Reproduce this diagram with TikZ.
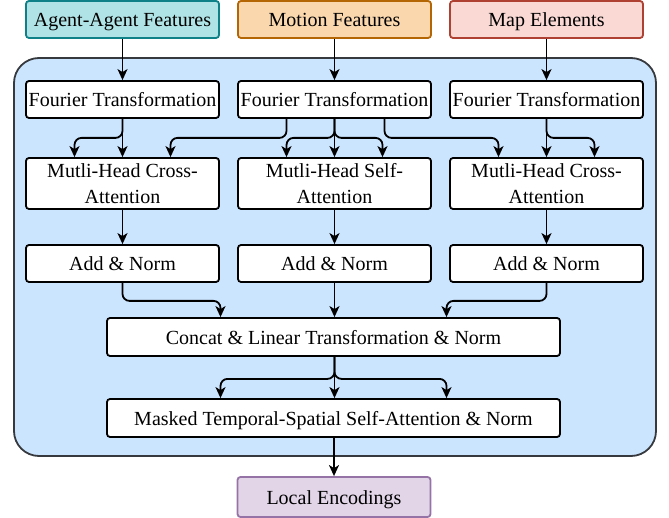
\documentclass[tikz,border=0pt]{standalone}
\usepackage{fontspec}
\setmainfont{Liberation Serif}
\usetikzlibrary{arrows.meta,calc}
\definecolor{agentfill}{HTML}{B0E3E6}
\definecolor{agentline}{HTML}{0E8088}
\definecolor{motionfill}{HTML}{FAD7AC}
\definecolor{motionline}{HTML}{B46504}
\definecolor{mapfill}{HTML}{FAD9D5}
\definecolor{mapline}{HTML}{AE4132}
\definecolor{localfill}{HTML}{E1D5E7}
\definecolor{localline}{HTML}{9673A6}
\definecolor{contfill}{HTML}{CCE5FF}
\definecolor{contline}{HTML}{36393D}
\begin{document}
\begin{tikzpicture}[x=1pt,y=-1pt,
  box/.style={draw=black,fill=white,line width=1.8pt,rounded corners=3pt,minimum width=193pt,minimum height=37pt,inner sep=0pt,align=center,font=\fontsize{20}{26}\selectfont},
  oneline/.style={text height=18pt,text depth=3pt},
  arr/.style={-{Stealth[length=11pt,width=10pt,inset=3pt]},line width=1.8pt,rounded corners=7pt}]
\useasboundingbox (0,0) rectangle (669,518);
\draw[fill=contfill,draw=contline,line width=1.8pt,rounded corners=25pt] (14,58) rectangle (656,456);
\node[box,oneline,fill=agentfill,draw=agentline] (agent) at (122.5,19.5) {Agent-Agent Features};
\node[box,oneline,fill=motionfill,draw=motionline] (motion) at (334.5,19.5) {Motion Features};
\node[box,oneline,fill=mapfill,draw=mapline] (map) at (546.5,19.5) {Map Elements};
\node[box,oneline] (ft1) at (122.5,99.5) {Fourier Transformation};
\node[box,oneline] (ft2) at (334.5,99.5) {Fourier Transformation};
\node[box,oneline] (ft3) at (546.5,99.5) {Fourier Transformation};
\node[box,minimum height=51pt] (mh1) at (122.5,183.5) {Mutli-Head Cross-\\Attention};
\node[box,minimum height=51pt] (mh2) at (334.5,183.5) {Mutli-Head Self-\\Attention};
\node[box,minimum height=51pt] (mh3) at (546.5,183.5) {Mutli-Head Cross-\\Attention};
\node[box,oneline] (an1) at (122.5,263.5) {Add \& Norm};
\node[box,oneline] (an2) at (334.5,263.5) {Add \& Norm};
\node[box,oneline] (an3) at (546.5,263.5) {Add \& Norm};
\node[box,oneline,minimum width=453pt,minimum height=38pt] (concat) at (333.5,337) {Concat \& Linear Transformation \& Norm};
\node[box,oneline,minimum width=453pt,minimum height=38pt] (masked) at (333.5,418) {Masked Temporal-Spatial Self-Attention \& Norm};
\node[box,oneline,fill=localfill,draw=localline,minimum height=40pt] (local) at (334,497) {Local Encodings};
% top arrows
\draw[arr] (agent) -- (ft1);
\draw[arr] (motion) -- (ft2);
\draw[arr] (map) -- (ft3);
% ports
\coordinate (mh1a) at ($(mh1.north)+(-48,0)$);
\coordinate (mh1c) at ($(mh1.north)+(48,0)$);
\coordinate (mh2a) at ($(mh2.north)+(-48,0)$);
\coordinate (mh2c) at ($(mh2.north)+(48,0)$);
\coordinate (mh3a) at ($(mh3.north)+(-48,0)$);
\coordinate (mh3c) at ($(mh3.north)+(48,0)$);
\coordinate (ft2l) at ($(ft2.south)+(-48,0)$);
\coordinate (ft2r) at ($(ft2.south)+(50,0)$);
% Fourier to attention
\draw[arr] (ft1) -- (mh1);
\draw[arr] (ft1.south) -- ++(0,19) -| (mh1a);
\draw[arr] (ft2l) -- ++(0,19) -| (mh1c);
\draw[arr] (ft2) -- (mh2);
\draw[arr] (ft2.south) -- ++(0,19) -| (mh2a);
\draw[arr] (ft2.south) -- ++(0,19) -| (mh2c);
\draw[arr] (ft2r) -- ++(0,19) -| (mh3a);
\draw[arr] (ft3) -- (mh3);
\draw[arr] (ft3.south) -- ++(0,19) -| (mh3c);
% attention to add & norm
\draw[arr] (mh1) -- (an1);
\draw[arr] (mh2) -- (an2);
\draw[arr] (mh3) -- (an3);
% add & norm to concat
\coordinate (c1) at ($(concat.north)+(-113,0)$);
\coordinate (c3) at ($(concat.north)+(113,0)$);
\draw[arr] (an1.south) -- ++(0,18) -| (c1);
\draw[arr] (an2) -- (an2 |- concat.north);
\draw[arr] (an3.south) -- ++(0,18) -| (c3);
% concat to masked
\coordinate (m1) at ($(masked.north)+(-113,0)$);
\coordinate (m3) at ($(masked.north)+(113,0)$);
\draw[arr] (concat.south -| an2) -- (an2 |- masked.north);
\draw[arr] (concat.south -| an2) -- ++(0,22) -| (m1);
\draw[arr] (concat.south -| an2) -- ++(0,22) -| (m3);
% masked to local
\draw[arr] (masked.south -| local) -- (local);
\end{tikzpicture}
\end{document}
